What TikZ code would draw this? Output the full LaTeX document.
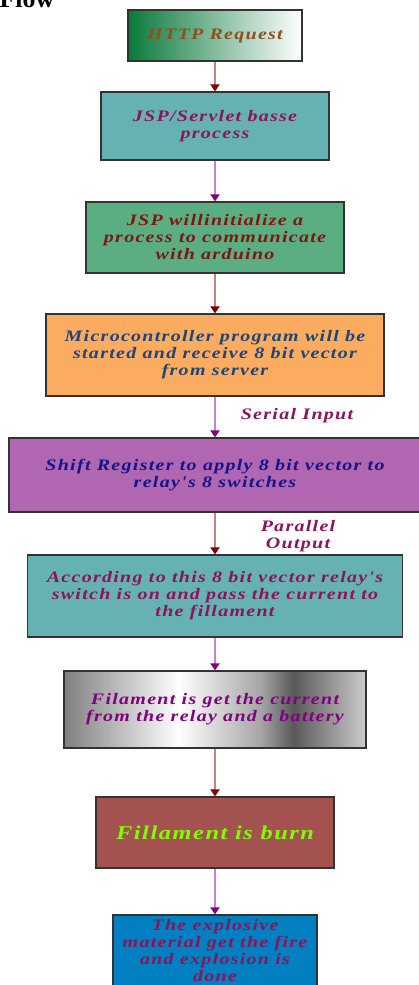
\documentclass[tikz,border=0pt]{standalone}
\usepackage{fontspec}
\setmainfont{Liberation Serif}
\usetikzlibrary{arrows.meta}
\definecolor{teal1}{RGB}{102,178,178}
\definecolor{green1}{RGB}{10,122,60}
\definecolor{green2}{RGB}{90,174,130}
\definecolor{orange1}{RGB}{252,172,96}
\definecolor{purple1}{RGB}{176,102,176}
\definecolor{brown1}{RGB}{163,82,80}
\definecolor{blue1}{RGB}{0,128,192}
\definecolor{txtbrown}{RGB}{140,80,30}
\definecolor{txtplum}{RGB}{140,20,90}
\definecolor{txtred}{RGB}{130,20,20}
\definecolor{txtblue}{RGB}{30,70,120}
\definecolor{txtnavy}{RGB}{20,20,140}
\definecolor{txtpurple}{RGB}{128,0,128}
\definecolor{txtlime}{RGB}{127,255,0}
\definecolor{lnbrown}{RGB}{200,130,130}
\definecolor{hdbrown}{RGB}{130,0,0}
\definecolor{lnpurple}{RGB}{200,130,210}
\definecolor{hdpurple}{RGB}{128,0,128}
\pgfdeclarehorizontalshading{metal}{100bp}{color(0bp)=(black!50);color(25bp)=(black!50);
  color(44bp)=(white);color(57.5bp)=(black!35);color(63bp)=(black!65);color(75bp)=(black!20);color(100bp)=(black!20)}
\newfontfamily\boxfont[FakeStretch=1.25,LetterSpace=8]{Liberation Serif}
\begin{document}
\begin{tikzpicture}[x=1pt,y=-1pt,
    box/.style={draw=black!80,line width=1.2pt,align=center,inner sep=0pt,
      font=\boxfont\bfseries\itshape\fontsize{16}{17}\selectfont},
    brarrow/.style={draw=lnbrown,line width=2.2pt,-{Triangle[width=9pt,length=7pt,color=hdbrown]}},
    plarrow/.style={draw=lnpurple,line width=2.2pt,-{Triangle[width=9pt,length=7pt,color=hdpurple]}},
    lbl/.style={align=center,text=txtplum,font=\boxfont\bfseries\itshape\fontsize{16}{17}\selectfont}]
    \useasboundingbox (0,0) rectangle (419,985);
    \node [anchor=base west,font=\bfseries\fontsize{26}{26}\selectfont] (flow) at (-4,8) {Flow};
    \node [box,minimum width=174,minimum height=51,left color=green1,right color=white,text=txtbrown] (http) at (215,35.5) {HTTP Request};
    \node [box,minimum width=228,minimum height=68,fill=teal1,text=txtplum] (servlet) at (215,126) {JSP/Servlet basse\\process};
    \node [box,minimum width=258,minimum height=71,fill=green2,text=txtred] (jsp) at (215,237.5) {JSP willinitialize a\\process to communicate\\with arduino};
    \node [box,minimum width=338,minimum height=82,fill=orange1,text=txtblue] (micro) at (215,355) {Microcontroller program will be\\started and receive 8 bit vector\\from server};
    \node [box,minimum width=412,minimum height=74,fill=purple1,text=txtnavy] (shift) at (215,475) {Shift Register to apply 8 bit vector to\\relay's 8 switches};
    \node [box,minimum width=375,minimum height=82,fill=teal1,text=txtplum] (relay) at (215,596) {According to this 8 bit vector relay's\\switch is on and pass the current to\\the fillament};
    \node [box,minimum width=302,minimum height=77,shading=metal,text=txtpurple] (filament) at (215,709.5) {Filament is get the current\\from the relay and a battery};
    \node [box,minimum width=238,minimum height=71,fill=brown1,text=txtlime,font=\boxfont\bfseries\itshape\fontsize{19.5}{20}\selectfont] (burn) at (215,832.5) {Fillament is burn};
    \node [box,minimum width=204,minimum height=72,fill=blue1,text=txtplum] (explode) at (215,951) {The explosive\\material get the fire\\and explosion is\\done};
    \draw [brarrow] (http) -- (servlet);
    \draw [plarrow] (servlet) -- (jsp);
    \draw [brarrow] (jsp) -- (micro);
    \draw [plarrow] (micro) -- (shift);
    \draw [brarrow] (shift) -- (relay);
    \draw [plarrow] (relay) -- (filament);
    \draw [brarrow] (filament) -- (burn);
    \draw [plarrow] (burn) -- (explode);
    \node [lbl] (serial) at (297,416) {Serial Input};
    \node [lbl] (parallel) at (298,536) {Parallel\\Output};
\end{tikzpicture}
\end{document}
